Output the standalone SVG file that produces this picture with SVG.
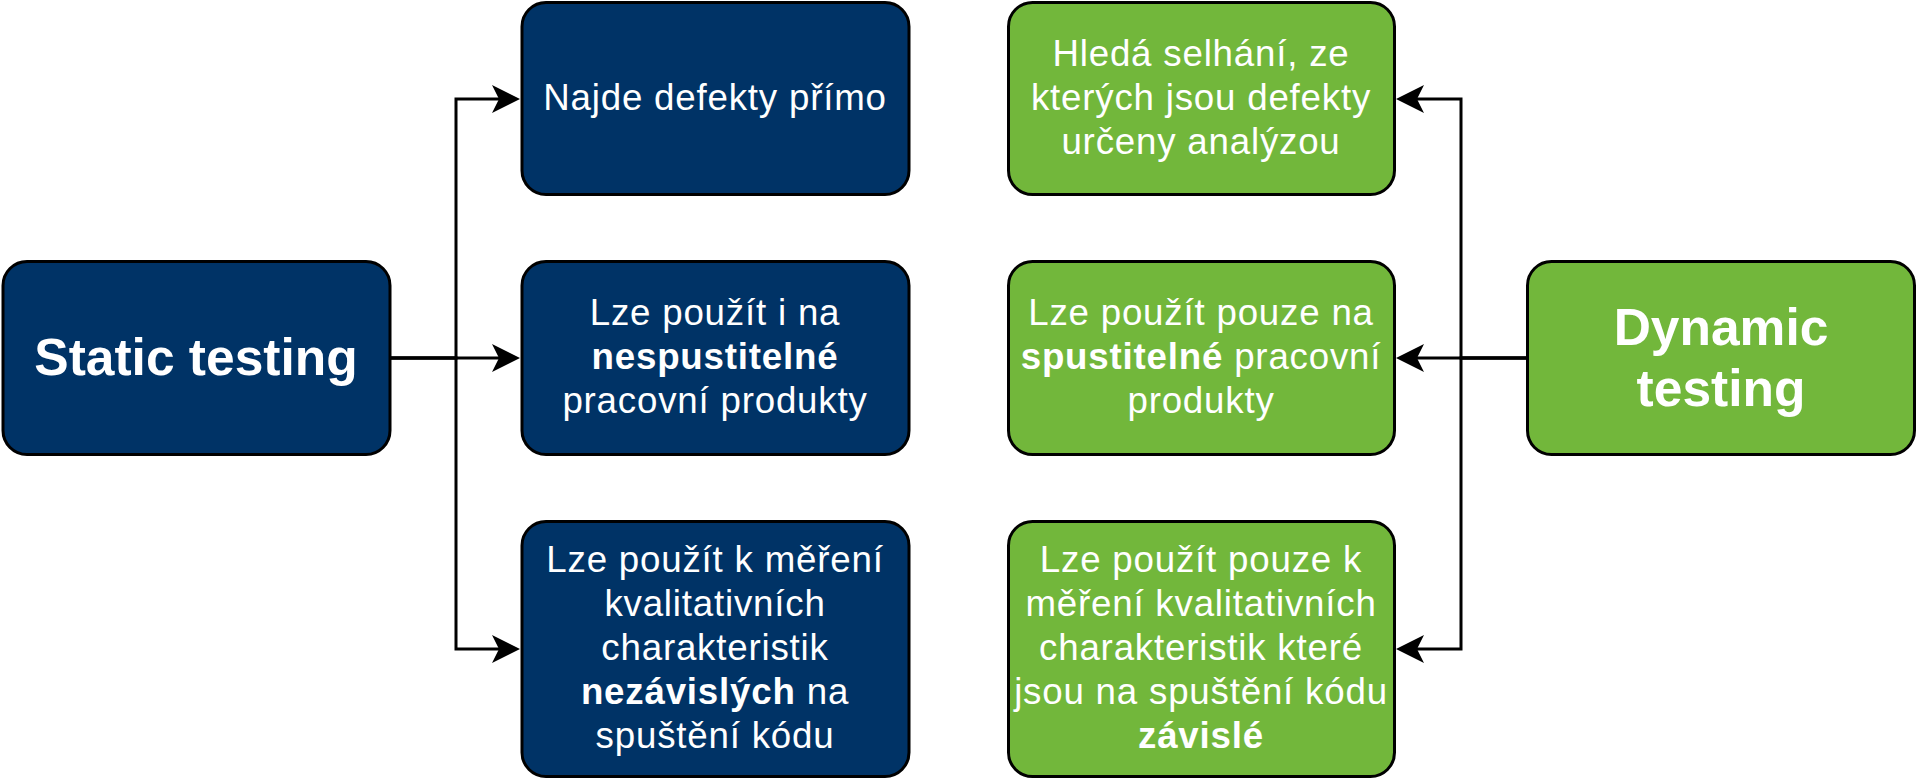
<svg xmlns="http://www.w3.org/2000/svg" width="1920" height="784" viewBox="0 0 1920 784">
  <style>
    .box { stroke: #000000; stroke-width: 3; }
    .blue { fill: #003366; }
    .green { fill: #72B73B; }
    .title { font-family: "Liberation Sans", Arial, Helvetica, sans-serif; font-size: 51.5px; font-weight: bold; fill: #ffffff; text-anchor: middle; }
    .body { font-family: "Liberation Sans", Arial, Helvetica, sans-serif; font-size: 36.7px; fill: #ffffff; text-anchor: middle; letter-spacing: 0.8px; }
    .b { font-weight: bold; }
    .edge { fill: none; stroke: #000000; stroke-width: 3; }
  </style>
  <defs>
    <marker id="arrow" markerUnits="userSpaceOnUse" markerWidth="30" markerHeight="30" viewBox="0 0 30 30" refX="7" refY="14" orient="auto">
      <path d="M0,0 L28,14 L0,28 L7,14 Z" fill="#000000"/>
    </marker>
  </defs>
  <rect width="1920" height="784" fill="#ffffff"/>

  <g id="connectors">
    <path class="edge" d="M391,358 H456 V99 H499" marker-end="url(#arrow)"/>
    <path class="edge" d="M391,358 H499" marker-end="url(#arrow)"/>
    <path class="edge" d="M391,358 H456 V649 H499" marker-end="url(#arrow)"/>
    <path class="edge" d="M1526,358 H1461 V99 H1417" marker-end="url(#arrow)"/>
    <path class="edge" d="M1526,358 H1417" marker-end="url(#arrow)"/>
    <path class="edge" d="M1526,358 H1461 V649 H1417" marker-end="url(#arrow)"/>
  </g>

  <g id="static-testing">
    <rect class="box blue" x="3" y="261.5" width="387" height="193" rx="24" ry="24"/>
    <text class="title" x="196" y="375">Static testing</text>
  </g>

  <g id="static-1">
    <rect class="box blue" x="522" y="2.5" width="387" height="192" rx="24" ry="24"/>
    <text class="body" x="715" y="110">Najde defekty přímo</text>
  </g>

  <g id="static-2">
    <rect class="box blue" x="522" y="261.5" width="387" height="193" rx="24" ry="24"/>
    <text class="body" x="715" y="325">Lze použít i na</text>
    <text class="body b" x="715" y="369">nespustitelné</text>
    <text class="body" x="715" y="413">pracovní produkty</text>
  </g>

  <g id="static-3">
    <rect class="box blue" x="522" y="521.5" width="387" height="255" rx="24" ry="24"/>
    <text class="body" x="715" y="572">Lze použít k měření</text>
    <text class="body" x="715" y="616">kvalitativních</text>
    <text class="body" x="715" y="660">charakteristik</text>
    <text class="body" x="715" y="704"><tspan class="b">nezávislých</tspan> na</text>
    <text class="body" x="715" y="748">spuštění kódu</text>
  </g>

  <g id="dynamic-1">
    <rect class="box green" x="1008.5" y="2.5" width="386" height="192" rx="24" ry="24"/>
    <text class="body" x="1201" y="66">Hledá selhání, ze</text>
    <text class="body" x="1201" y="110">kterých jsou defekty</text>
    <text class="body" x="1201" y="154">určeny analýzou</text>
  </g>

  <g id="dynamic-2">
    <rect class="box green" x="1008.5" y="261.5" width="386" height="193" rx="24" ry="24"/>
    <text class="body" x="1201" y="325">Lze použít pouze na</text>
    <text class="body" x="1201" y="369"><tspan class="b">spustitelné</tspan> pracovní</text>
    <text class="body" x="1201" y="413">produkty</text>
  </g>

  <g id="dynamic-3">
    <rect class="box green" x="1008.5" y="521.5" width="386" height="255" rx="24" ry="24"/>
    <text class="body" x="1201" y="572">Lze použít pouze k</text>
    <text class="body" x="1201" y="616">měření kvalitativních</text>
    <text class="body" x="1201" y="660">charakteristik které</text>
    <text class="body" x="1201" y="704">jsou na spuštění kódu</text>
    <text class="body b" x="1201" y="748">závislé</text>
  </g>

  <g id="dynamic-testing">
    <rect class="box green" x="1527.5" y="261.5" width="387" height="193" rx="24" ry="24"/>
    <text class="title" x="1721" y="345">Dynamic</text>
    <text class="title" x="1721" y="406">testing</text>
  </g>
</svg>
